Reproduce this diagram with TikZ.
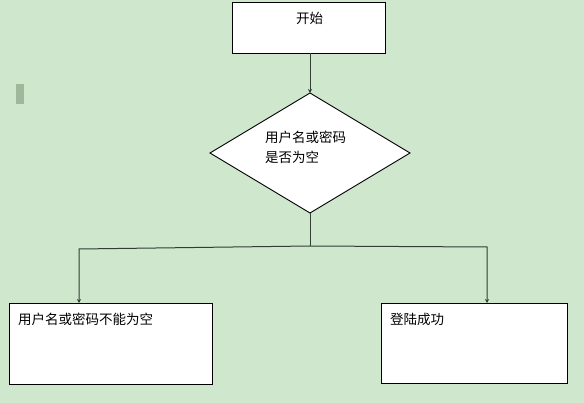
\documentclass[tikz,border=0pt]{standalone}
\usepackage{fontspec}
\setmainfont{Noto Sans CJK SC}
\usetikzlibrary{arrows.meta}
\definecolor{bg}{RGB}{207,231,205}
\definecolor{ln}{RGB}{50,62,50}
\definecolor{markgray}{RGB}{158,184,156}
\begin{document}
\begin{tikzpicture}[x=1pt,y=-1pt,
  box/.style={draw=black,fill=white,line width=0.9pt},
  lbl/.style={font=\fontsize{13.5}{20}\selectfont,anchor=west,inner sep=0pt},
  conn/.style={draw=ln,line width=1pt},
  tip/.style={-{Stealth[length=4pt,width=4pt]}}]
\fill[bg] (0,0) rectangle (584,403);
\useasboundingbox (0,0) rectangle (584,403);
\fill[markgray] (16,84) rectangle (24,104);
% nodes
\draw[box] (232,2) rectangle (385,53);
\node[lbl] (start) at (296,18) {开始};
\coordinate (startB) at (310,53);
\draw[box] (310,93) -- (410,153) -- (310,213) -- (210,153) -- cycle;
\coordinate (dT) at (310,93);
\coordinate (dB) at (310,213);
\node[lbl,align=left] (dtext) at (265,147) {用户名或密码\\是否为空};
\draw[box] (9,303) rectangle (212,384);
\node[lbl] (ltext) at (18,319) {用户名或密码不能为空};
\coordinate (lT) at (79,303);
\draw[box] (381,303) rectangle (567,383);
\node[lbl] (rtext) at (390,319) {登陆成功};
\coordinate (rT) at (487,303);
% connectors
\draw[conn,tip] (startB) -- (dT);
\coordinate (j) at (310,246);
\draw[conn] (dB) -- (j);
\draw[conn,tip] (j) -- (79,249) -- (lT);
\draw[conn,tip] (j) -- (487,247) -- (rT);
\end{tikzpicture}
\end{document}
